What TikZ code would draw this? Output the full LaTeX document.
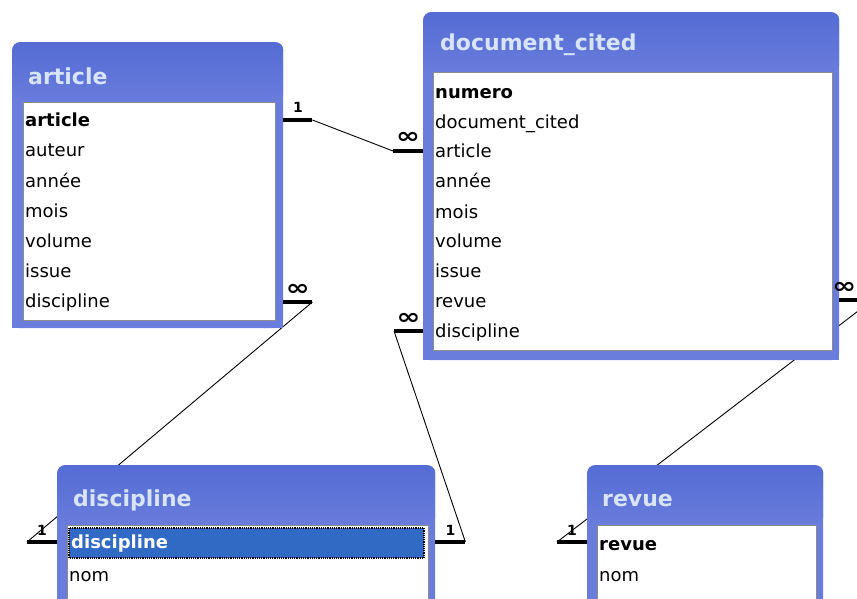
\documentclass[tikz,border=0pt]{standalone}
\usepackage{fontspec}
\setmainfont{DejaVu Sans}
\usepackage{tikz}
\usetikzlibrary{positioning, calc, backgrounds}
\definecolor{framecolor}{RGB}{106,124,220}
\definecolor{titletop}{RGB}{84,108,212}
\definecolor{titlemid}{RGB}{140,162,238}
\definecolor{titletext}{RGB}{216,228,250}
\definecolor{selectcolor}{RGB}{49,106,197}

\tikzset{
  tablebox/.style={fill=framecolor, rounded corners=8pt, anchor=north west, inner sep=0pt},
  titlebar/.style={shade, top color=titletop, middle color=titlemid, bottom color=framecolor,
    rounded corners=8pt, anchor=north west, inner sep=0pt, minimum height=60pt},
  listbox/.style={fill=white, draw=black!45, line width=1.2pt, anchor=north west, inner sep=0pt},
  tabletitle/.style={anchor=west, inner sep=0pt, text=titletext, font=\fontsize{22}{22}\selectfont\bfseries},
  field/.style={anchor=west, inner sep=0pt, text height=12pt, text depth=4pt, font=\fontsize{18}{18}\selectfont},
  keyfield/.style={field, font=\fontsize{18}{18}\selectfont\bfseries},
  stub/.style={line width=4pt},
  link/.style={line width=0.9pt},
  one/.style={font=\fontsize{14}{14}\selectfont\bfseries, inner sep=0pt},
  many/.style={font=\fontsize{22}{22}\selectfont\bfseries, xscale=1.3, inner sep=0pt},
}

\begin{document}
\begin{tikzpicture}[x=1pt, y=-1pt]
  \useasboundingbox (0,0) rectangle (857,599);
  \clip (0,0) rectangle (857,599);

  % Table article
  \node[tablebox, minimum width=271pt, minimum height=286pt] (article) at (12,42) {};
  \fill[framecolor] ([yshift=20pt]article.south west) rectangle (article.south east);
  \node[titlebar, minimum width=271pt] (article-title) at (article.north west) {};
  \node[listbox, minimum width=252pt, minimum height=218pt] (article-list) at (23,102) {};
  \node[tabletitle] at (28,76) {article};
  \node[keyfield] (art-article) at (25,123) {article};
  \node[field] (art-auteur) at (25,153) {auteur};
  \node[field] (art-annee) at (25,183) {année};
  \node[field] (art-mois) at (25,213) {mois};
  \node[field] (art-volume) at (25,243) {volume};
  \node[field] (art-issue) at (25,273) {issue};
  \node[field] (art-discipline) at (25,303) {discipline};

  % Table document_cited
  \node[tablebox, minimum width=416pt, minimum height=348pt] (doc) at (423,12) {};
  \fill[framecolor] ([yshift=20pt]doc.south west) rectangle (doc.south east);
  \node[titlebar, minimum width=416pt] (doc-title) at (doc.north west) {};
  \node[listbox, minimum width=399pt, minimum height=278pt] (doc-list) at (433,72) {};
  \node[tabletitle] at (440,45) {document\_cited};
  \node[keyfield] (doc-numero) at (435,95) {numero};
  \node[field] (doc-document) at (435,125) {document\_cited};
  \node[field] (doc-article) at (435,154) {article};
  \node[field] (doc-annee) at (435,184) {année};
  \node[field] (doc-mois) at (435,214) {mois};
  \node[field] (doc-volume) at (435,243) {volume};
  \node[field] (doc-issue) at (435,273) {issue};
  \node[field] (doc-revue) at (435,303) {revue};
  \node[field] (doc-discipline) at (435,333) {discipline};

  % Table discipline
  \node[tablebox, minimum width=378pt, minimum height=185pt] (discipline) at (57,465) {};
  \node[titlebar, minimum width=378pt] (dis-title) at (discipline.north west) {};
  \node[listbox, minimum width=361pt, minimum height=115pt] (dis-list) at (67,525) {};
  \node[tabletitle] at (73,500) {discipline};
  \fill[selectcolor] (69,528) rectangle (424,558);
  \draw[densely dotted, line width=1.2pt] (69,528) rectangle (424,558);
  \node[keyfield, text=white] (dis-discipline) at (71,544) {discipline};
  \node[field] (dis-nom) at (69,577) {nom};

  % Table revue
  \node[tablebox, minimum width=236pt, minimum height=185pt] (revue) at (587,465) {};
  \node[titlebar, minimum width=236pt] (rev-title) at (revue.north west) {};
  \node[listbox, minimum width=219pt, minimum height=115pt] (rev-list) at (597,525) {};
  \node[tabletitle] at (602,500) {revue};
  \node[keyfield] (rev-revue) at (599,546) {revue};
  \node[field] (rev-nom) at (599,577) {nom};

  % Stubs with cardinalities
  \draw[stub] ($(article.east |- art-article)+(0,-3)$) coordinate (a0)
    -- node[one, above=5pt] {1} ++(29,0) coordinate (a1);
  \draw[stub] ($(doc.west |- doc-article)+(0,-3)$) coordinate (d0)
    -- node[many, above=5pt] {∞} ++(-30,0) coordinate (d1);
  \draw[stub] ($(article.east |- art-discipline)+(0,-1)$) coordinate (a2)
    -- node[many, above=5pt] {∞} ++(29,0) coordinate (a3);
  \draw[stub] ($(doc.west |- doc-discipline)+(0,-2)$) coordinate (d2)
    -- node[many, above=5pt] {∞} ++(-29,0) coordinate (d3);
  \draw[stub] ($(doc.east |- doc-revue)+(0,-3)$) coordinate (d4) -- ++(33,0) coordinate (d5);
  \node[many, anchor=south east] (d-many) at ($(d4)+(17,-6)$) {∞};
  \draw[stub] ($(discipline.west |- dis-discipline)+(0,-2)$) coordinate (s0)
    -- node[one, above=5pt] {1} ++(-30,0) coordinate (s1);
  \draw[stub] ($(discipline.east |- dis-discipline)+(0,-2)$) coordinate (s2)
    -- node[one, above=5pt] {1} ++(30,0) coordinate (s3);
  \draw[stub] ($(revue.west |- rev-revue)+(0,-4)$) coordinate (r0)
    -- node[one, above=5pt] {1} ++(-30,0) coordinate (r1);

  % Links behind the tables
  \begin{scope}[on background layer]
    \fill[white] (0,0) rectangle (857,599);
    \draw[link] (a1) -- (d1);
    \draw[link] (a3) -- (s1);
    \draw[link] (d3) -- (s3);
    \draw[link] (d5) -- (r1);
  \end{scope}
\end{tikzpicture}
\end{document}
